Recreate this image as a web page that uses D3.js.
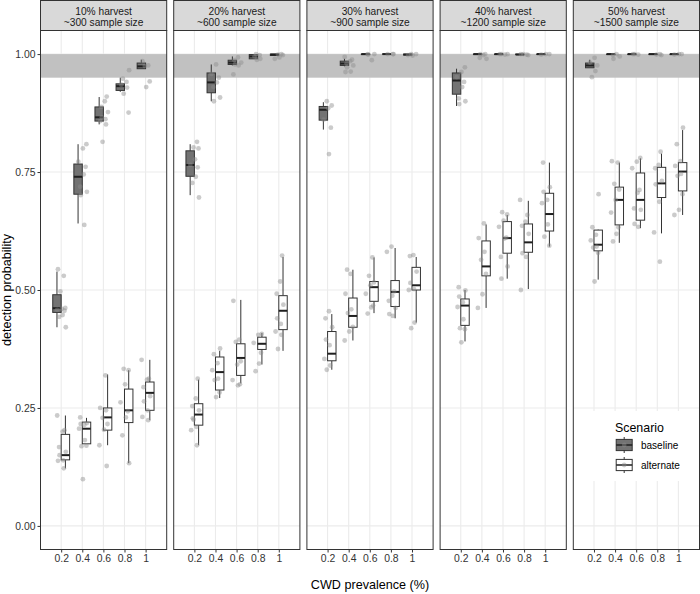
<!DOCTYPE html>
<html>
<head>
<meta charset="utf-8">
<script src="https://cdn.jsdelivr.net/npm/d3@7"></script>
<style>
  body { margin: 0; background: #ffffff; }
  text { font-family: "Liberation Sans", Arial, sans-serif; }
</style>
</head>
<body>
<script>
// ---------------- DATA ----------------
const harvestLabels = ["10% harvest", "20% harvest", "30% harvest", "40% harvest", "50% harvest"];
const sampleLabels = ["~300 sample size", "~600 sample size", "~900 sample size", "~1200 sample size", "~1500 sample size"];
const prevalence = [0.2, 0.4, 0.6, 0.8, 1];
const xTickLabels = ["0.2", "0.4", "0.6", "0.8", "1"];
const yTicks = [0, 0.25, 0.5, 0.75, 1];
const yTickLabels = ["0.00", "0.25", "0.50", "0.75", "1.00"];
const targetBand = [0.95, 1.0];
const scenarios = ["baseline", "alternate"];

// box stats per panel, per prevalence: [lower whisker, q1, median, q3, upper whisker]
const baselineStats = [
  [[0.421, 0.4525, 0.4615, 0.49, 0.539], [0.641, 0.703, 0.74, 0.767, 0.809], [0.851, 0.858, 0.866, 0.888, 0.909], [0.92, 0.923, 0.932, 0.937, 0.95], [0.969, 0.969, 0.974, 0.981, 0.988]],
  [[0.701, 0.741, 0.765, 0.795, 0.809], [0.90, 0.918, 0.94, 0.96, 0.978], [0.976, 0.978, 0.982, 0.987, 0.995], [0.99, 0.99, 0.995, 0.999, 1.0], [0.997, 0.997, 0.999, 1.0, 1.0]],
  [[0.84, 0.86, 0.882, 0.889, 0.898], [0.974, 0.976, 0.98, 0.985, 0.99], [0.999, 0.999, 1.0, 1.0, 1.0], [1.0, 1.0, 1.0, 1.0, 1.0], [0.998, 0.998, 0.999, 1.0, 1.0]],
  [[0.89, 0.915, 0.944, 0.96, 0.969], [0.998, 0.999, 1.0, 1.0, 1.0], [0.999, 0.999, 1.0, 1.0, 1.0], [0.998, 0.999, 0.999, 1.0, 1.0], [0.999, 0.999, 1.0, 1.0, 1.0]],
  [[0.971, 0.971, 0.976, 0.981, 0.988], [0.999, 0.999, 1.0, 1.0, 1.0], [0.999, 0.999, 1.0, 1.0, 1.0], [0.999, 0.999, 1.0, 1.0, 1.0], [0.999, 0.999, 1.0, 1.0, 1.0]]
];
const alternateStats = [
  [[0.122, 0.14, 0.15, 0.194, 0.234], [0.174, 0.174, 0.206, 0.22, 0.229], [0.171, 0.203, 0.23, 0.25, 0.321], [0.133, 0.219, 0.245, 0.29, 0.33], [0.224, 0.245, 0.282, 0.305, 0.352]],
  [[0.171, 0.2135, 0.236, 0.259, 0.31], [0.271, 0.288, 0.326, 0.358, 0.371], [0.302, 0.319, 0.356, 0.386, 0.479], [0.342, 0.374, 0.386, 0.40, 0.409], [0.371, 0.416, 0.456, 0.488, 0.57]],
  [[0.331, 0.35, 0.365, 0.412, 0.449], [0.393, 0.421, 0.445, 0.483, 0.543], [0.451, 0.476, 0.506, 0.518, 0.569], [0.44, 0.465, 0.496, 0.52, 0.589], [0.431, 0.50, 0.51, 0.548, 0.57]],
  [[0.391, 0.425, 0.467, 0.481, 0.50], [0.462, 0.53, 0.55, 0.604, 0.639], [0.524, 0.578, 0.61, 0.645, 0.659], [0.502, 0.58, 0.601, 0.64, 0.689], [0.592, 0.625, 0.661, 0.705, 0.77]],
  [[0.522, 0.583, 0.596, 0.627, 0.628], [0.60, 0.638, 0.691, 0.718, 0.77], [0.631, 0.648, 0.691, 0.748, 0.779], [0.62, 0.696, 0.726, 0.76, 0.789], [0.659, 0.71, 0.751, 0.77, 0.839]]
];

// individual simulation results per panel, per prevalence
const baselinePoints = [
  [[0.544, 0.53, 0.497, 0.462, 0.46, 0.458, 0.456, 0.447, 0.443, 0.421],
   [0.809, 0.80, 0.772, 0.761, 0.745, 0.719, 0.708, 0.701, 0.638],
   [0.91, 0.90, 0.888, 0.877, 0.866, 0.862, 0.858, 0.851, 0.814],
   [0.966, 0.948, 0.941, 0.935, 0.929, 0.916, 0.876],
   [0.985, 0.976, 0.975, 0.942, 0.930]],
  [[0.814, 0.802, 0.80, 0.777, 0.765, 0.76, 0.74, 0.727, 0.696],
   [0.978, 0.958, 0.95, 0.94, 0.93, 0.908, 0.90],
   [0.993, 0.987, 0.982, 0.978, 0.976, 0.957],
   [1.0, 0.998, 0.995, 0.99, 0.988],
   [1.0, 0.999, 0.998, 0.993, 0.99]],
  [[0.90, 0.891, 0.885, 0.861, 0.844, 0.788],
   [0.994, 0.988, 0.985, 0.98, 0.976, 0.972, 0.963, 0.962],
   [1.0, 1.0, 0.999, 0.987],
   [1.0, 1.0, 1.0],
   [1.0, 1.0, 0.997, 0.998]],
  [[0.972, 0.962, 0.951, 0.941, 0.93, 0.906, 0.90, 0.894],
   [1.0, 0.998, 0.992, 0.99, 1.0],
   [1.0, 1.0, 0.999, 1.0],
   [1.0, 0.999, 1.0, 0.998],
   [1.0, 1.0, 0.999]],
  [[0.992, 0.982, 0.976, 0.964, 0.951],
   [1.0, 0.998, 0.995, 0.99],
   [1.0, 0.999, 1.0],
   [1.0, 0.999, 0.998],
   [1.0, 0.999, 1.0]]
];
const alternatePoints = [
  [[0.234, 0.203, 0.20, 0.167, 0.157, 0.15, 0.139, 0.138, 0.122],
   [0.23, 0.218, 0.216, 0.214, 0.206, 0.182, 0.169, 0.17, 0.099],
   [0.319, 0.25, 0.245, 0.229, 0.216, 0.204, 0.171, 0.127],
   [0.333, 0.33, 0.30, 0.262, 0.243, 0.23, 0.192, 0.133],
   [0.352, 0.312, 0.31, 0.294, 0.275, 0.264, 0.245, 0.231, 0.224]],
  [[0.312, 0.27, 0.254, 0.245, 0.228, 0.21, 0.203, 0.171, 0.225],
   [0.376, 0.364, 0.345, 0.33, 0.312, 0.309, 0.283, 0.273],
   [0.477, 0.395, 0.39, 0.349, 0.342, 0.309, 0.30, 0.298],
   [0.407, 0.405, 0.388, 0.367, 0.344, 0.328],
   [0.573, 0.518, 0.492, 0.469, 0.44, 0.428, 0.412, 0.405, 0.375]],
  [[0.455, 0.44, 0.421, 0.395, 0.383, 0.354, 0.34, 0.331],
   [0.543, 0.534, 0.492, 0.459, 0.451, 0.422, 0.412, 0.393],
   [0.569, 0.53, 0.516, 0.51, 0.492, 0.467, 0.463, 0.45],
   [0.592, 0.581, 0.497, 0.488, 0.477, 0.462, 0.449, 0.445],
   [0.574, 0.572, 0.539, 0.515, 0.502, 0.50, 0.431, 0.419]],
  [[0.506, 0.499, 0.486, 0.474, 0.464, 0.438, 0.419, 0.417, 0.389],
   [0.641, 0.61, 0.581, 0.564, 0.534, 0.491, 0.462],
   [0.665, 0.66, 0.647, 0.634, 0.611, 0.609, 0.57, 0.55, 0.524],
   [0.691, 0.659, 0.645, 0.636, 0.619, 0.578, 0.57, 0.50],
   [0.77, 0.718, 0.708, 0.691, 0.684, 0.639, 0.613, 0.594]],
  [[0.703, 0.633, 0.617, 0.605, 0.592, 0.59, 0.579, 0.518],
   [0.773, 0.77, 0.725, 0.713, 0.691, 0.664, 0.633, 0.619, 0.603],
   [0.78, 0.772, 0.758, 0.712, 0.706, 0.673, 0.67, 0.64, 0.634],
   [0.793, 0.765, 0.758, 0.731, 0.724, 0.687, 0.622, 0.56],
   [0.844, 0.809, 0.773, 0.763, 0.746, 0.742, 0.703, 0.67, 0.659]]
];

// ---------------- LAYOUT / STYLE ----------------
const W = 700, H = 594;
const panelTop = 30.5, panelBottom = 549.5, stripTop = 0.5;
const jitterPx = [-3.2, 2.6, -0.8, 4.1, 0.6, -4.0, 3.3, 1.4, -2.1, 4.6, -1.6, 2.0];
const boxHalfUnits = 0.04;   // box half width in x units
const dodgeUnits = 0.04;     // dodge offset in x units
const colBaseline = "#737373", colAlternate = "#ffffff", colLine = "#333333";

const svg = d3.select("body").append("svg").attr("width", W).attr("height", H);

const panelScale = d3.scaleBand().domain(d3.range(harvestLabels.length))
  .range([40.5, 699.5]).paddingInner(7 / 133.2).paddingOuter(0);
const y = d3.scaleLinear().domain([-0.05, 1.05]).range([panelBottom, panelTop]);

harvestLabels.forEach((hl, pi) => {
  const px = panelScale(pi), bw = panelScale.bandwidth();
  const x = d3.scaleLinear().domain([0.004, 1.2]).range([px, px + bw]);
  const g = svg.append("g");

  g.append("rect").attr("x", px).attr("y", panelTop).attr("width", bw)
    .attr("height", panelBottom - panelTop).attr("fill", "#fff");

  // grid
  g.selectAll(".vg").data(prevalence).join("line")
    .attr("x1", d => x(d)).attr("x2", d => x(d))
    .attr("y1", panelTop).attr("y2", panelBottom)
    .attr("stroke", "#ebebeb").attr("stroke-width", 1.1);
  g.selectAll(".hg").data(yTicks).join("line")
    .attr("x1", px).attr("x2", px + bw)
    .attr("y1", d => y(d)).attr("y2", d => y(d))
    .attr("stroke", "#ebebeb").attr("stroke-width", 1.1);

  // target band
  g.append("rect").attr("x", px).attr("width", bw)
    .attr("y", y(targetBand[1])).attr("height", y(targetBand[0]) - y(targetBand[1]))
    .attr("fill", "#c1c1c1");

  // boxes
  const half = x(boxHalfUnits) - x(0);
  [baselineStats, alternateStats].forEach((stats, si) => {
    const fill = si === 0 ? colBaseline : colAlternate;
    const off = si === 0 ? -dodgeUnits : dodgeUnits;
    stats[pi].forEach((s, ci) => {
      const cx = x(prevalence[ci] + off);
      const [lo, q1, med, q3, hi] = s;
      g.append("line").attr("x1", cx).attr("x2", cx).attr("y1", y(hi)).attr("y2", y(q3))
        .attr("stroke", colLine).attr("stroke-width", 1);
      g.append("line").attr("x1", cx).attr("x2", cx).attr("y1", y(q1)).attr("y2", y(lo))
        .attr("stroke", colLine).attr("stroke-width", 1);
      g.append("rect").attr("x", cx - half).attr("width", 2 * half)
        .attr("y", y(q3)).attr("height", Math.max(0.01, y(q1) - y(q3)))
        .attr("fill", fill).attr("stroke", colLine).attr("stroke-width", 1);
      g.append("line").attr("x1", cx - half).attr("x2", cx + half)
        .attr("y1", y(med)).attr("y2", y(med))
        .attr("stroke", "#1f1f1f").attr("stroke-width", 2);
    });
  });

  // points
  [baselinePoints, alternatePoints].forEach((pts, si) => {
    pts[pi].forEach((arr, ci) => {
      arr.forEach((v, k) => {
        g.append("circle")
          .attr("cx", x(prevalence[ci]) + jitterPx[(k + ci * 3 + si * 5 + pi) % jitterPx.length])
          .attr("cy", y(v)).attr("r", 2.4)
          .attr("fill", "#8c8c8c").attr("fill-opacity", 0.45);
      });
    });
  });

  // border
  g.append("rect").attr("x", px).attr("y", panelTop).attr("width", bw)
    .attr("height", panelBottom - panelTop).attr("fill", "none")
    .attr("stroke", colLine).attr("stroke-width", 1);

  // strip
  g.append("rect").attr("x", px).attr("y", stripTop).attr("width", bw)
    .attr("height", panelTop - stripTop).attr("fill", "#d9d9d9")
    .attr("stroke", colLine).attr("stroke-width", 1);
  g.append("text").attr("x", px + bw / 2).attr("y", 14.8).attr("text-anchor", "middle")
    .attr("font-size", 10.2).attr("fill", "#1a1a1a").text(hl);
  g.append("text").attr("x", px + bw / 2).attr("y", 25.6).attr("text-anchor", "middle")
    .attr("font-size", 10.2).attr("fill", "#1a1a1a").text(sampleLabels[pi]);

  // x axis
  const xa = g.append("g").attr("transform", `translate(0,${panelBottom})`)
    .call(d3.axisBottom(x).tickValues(prevalence).tickFormat((d, i) => xTickLabels[i]).tickSize(3).tickPadding(2));
  xa.select(".domain").remove();
  xa.selectAll("line").attr("stroke", colLine);
  xa.selectAll("text").attr("font-size", 10.4).attr("fill", "#333")
    .attr("font-family", "Liberation Sans, Arial, sans-serif");

  if (pi === 0) {
    const ya = g.append("g").attr("transform", `translate(${px},0)`)
      .call(d3.axisLeft(y).tickValues(yTicks).tickFormat((d, i) => yTickLabels[i]).tickSize(3).tickPadding(2));
    ya.select(".domain").remove();
    ya.selectAll("line").attr("stroke", colLine);
    ya.selectAll("text").attr("font-size", 10.4).attr("fill", "#333")
      .attr("font-family", "Liberation Sans, Arial, sans-serif");
  }
});

// axis titles
svg.append("text").attr("x", (40.5 + 699.5) / 2).attr("y", 589).attr("text-anchor", "middle")
  .attr("font-size", 12.6).attr("fill", "#000").text("CWD prevalence (%)");
svg.append("text").attr("transform", `translate(10.5,${(panelTop + panelBottom) / 2}) rotate(-90)`)
  .attr("text-anchor", "middle").attr("font-size", 12.6).attr("fill", "#000").text("detection probability");

// legend
const lg = svg.append("g");
lg.append("rect").attr("x", 589).attr("y", 411).attr("width", 102).attr("height", 70).attr("fill", "#fff");
lg.append("text").attr("x", 615).attr("y", 431.5).attr("font-size", 12.4).attr("fill", "#000").text("Scenario");
scenarios.forEach((s, i) => {
  const cy = 445 + i * 20, cx = 624.2;
  const fill = i === 0 ? colBaseline : colAlternate;
  lg.append("line").attr("x1", cx).attr("x2", cx).attr("y1", cy - 8).attr("y2", cy + 8)
    .attr("stroke", colLine).attr("stroke-width", 1);
  lg.append("rect").attr("x", cx - 8).attr("y", cy - 5.6).attr("width", 16).attr("height", 11.2)
    .attr("fill", fill).attr("stroke", colLine).attr("stroke-width", 1);
  lg.append("line").attr("x1", cx - 8).attr("x2", cx + 8).attr("y1", cy).attr("y2", cy)
    .attr("stroke", "#1f1f1f").attr("stroke-width", 1.5);
  lg.append("circle").attr("cx", cx).attr("cy", cy).attr("r", 2.4)
    .attr("fill", "#8c8c8c").attr("fill-opacity", 0.45);
  lg.append("text").attr("x", 641).attr("y", cy + 3.6).attr("font-size", 10).attr("fill", "#000").text(s);
});
</script>
</body>
</html>
